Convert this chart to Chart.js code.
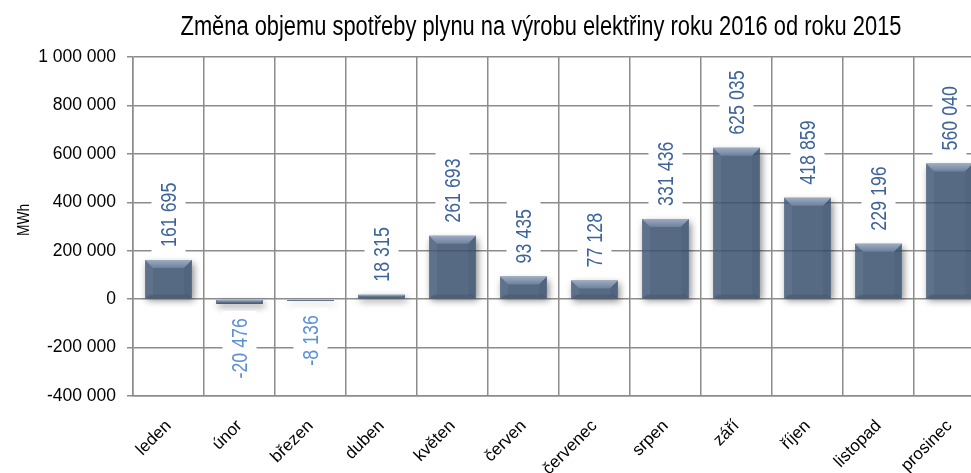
<!DOCTYPE html>
<html lang="cs">
<head>
  <meta charset="UTF-8">
  <title>Změna objemu spotřeby plynu na výrobu elektřiny</title>
  <script src="https://cdn.jsdelivr.net/npm/chart.js@4.4.1/dist/chart.umd.min.js"></script>
  <style>
    html, body { margin: 0; padding: 0; background: #fff; overflow: hidden; }
    #wrap { width: 1000px; height: 473px; position: relative; }
  </style>
</head>
<body>
  <div id="wrap"><canvas id="chart"></canvas></div>

  <script>
    // data
    const months = ['leden', 'únor', 'březen', 'duben', 'květen', 'červen',
                    'červenec', 'srpen', 'září', 'říjen', 'listopad', 'prosinec'];
    const change = [161695, -20476, -8136, 18315, 261693, 93435,
                    77128, 331436, 625035, 418859, 229196, 560040];
    const yMin = -400000, yMax = 1000000, yStep = 200000;
    const chartTitle = 'Změna objemu spotřeby plynu na výrobu elektřiny roku 2016 od roku 2015';
    const yTitle = 'MWh';

    const FONT = "'Liberation Sans', Arial, sans-serif";
    const NARROW = 0.81;   // no narrow face installed, squeeze the regular one
    const GRID = '#8c8c8c';

    // 1 234 567 style
    function fmt(v) {
      return String(v).replace(/\B(?=(\d{3})+(?!\d))/g, ' ');
    }

    // chart title and axis title drawn by hand, both sit a bit off-centre in the original
    const textPlugin = {
      id: 'titles',
      afterDraw(chart) {
        const ctx = chart.ctx;
        ctx.save();
        ctx.fillStyle = '#000';
        ctx.textAlign = 'center';
        ctx.textBaseline = 'alphabetic';
        ctx.save();
        ctx.translate(541, 35);
        ctx.scale(NARROW, 1);
        ctx.font = '27px ' + FONT;
        ctx.fillText(chartTitle, 0, 0);
        ctx.restore();

        ctx.font = '17px ' + FONT;
        ctx.translate(29, 220);
        ctx.rotate(-Math.PI / 2);
        ctx.scale(NARROW, 1);
        ctx.fillText(yTitle, 0, 0);
        ctx.restore();
      }
    };

    function barBox(el) {
      const p = el.getProps(['x', 'y', 'base', 'width'], true);
      return {
        x: p.x, y: p.y,
        left: p.x - p.width / 2, right: p.x + p.width / 2,
        top: Math.min(p.y, p.base), bottom: Math.max(p.y, p.base),
        width: p.width
      };
    }

    // soft shadow + bevel on bars, then the rotated value labels
    const barDeco = {
      id: 'barDeco',
      beforeDatasetsDraw(chart) {
        const ctx = chart.ctx;
        const OFF = 5000;
        chart.getDatasetMeta(0).data.forEach(el => {
          const r = barBox(el);
          ctx.save();
          // shadow only outside the bar, the bar itself is see-through
          ctx.beginPath();
          ctx.rect(0, 0, chart.width, chart.height);
          ctx.rect(r.left, r.top, r.width, r.bottom - r.top);
          ctx.clip('evenodd');
          ctx.shadowColor = 'rgba(0,0,0,0.45)';
          ctx.shadowBlur = 7;
          ctx.shadowOffsetX = OFF + 2;
          ctx.shadowOffsetY = 3;
          ctx.fillStyle = '#000';
          ctx.fillRect(r.left - OFF, r.top, r.width, r.bottom - r.top);
          ctx.restore();
        });
      },
      afterDatasetsDraw(chart) {
        const ctx = chart.ctx;
        chart.getDatasetMeta(0).data.forEach((el, i) => {
          const r = barBox(el);
          const { left, right, top, bottom } = r;
          const b = Math.min(8, (bottom - top) / 2, r.width / 4);

          ctx.save();
          // top face
          const g = ctx.createLinearGradient(0, top, 0, top + b);
          g.addColorStop(0, 'rgba(160,175,198,0.95)');
          g.addColorStop(1, 'rgba(112,130,156,0.95)');
          ctx.fillStyle = g;
          ctx.beginPath();
          ctx.moveTo(left, top); ctx.lineTo(right, top);
          ctx.lineTo(right - b, top + b); ctx.lineTo(left + b, top + b);
          ctx.closePath(); ctx.fill();
          // sides
          ctx.fillStyle = 'rgba(255,255,255,0.05)';
          ctx.beginPath();
          ctx.moveTo(left, top); ctx.lineTo(left + b, top + b);
          ctx.lineTo(left + b, bottom - b / 2); ctx.lineTo(left, bottom);
          ctx.closePath(); ctx.fill();
          ctx.fillStyle = 'rgba(0,0,0,0.05)';
          ctx.beginPath();
          ctx.moveTo(right, top); ctx.lineTo(right - b, top + b);
          ctx.lineTo(right - b, bottom - b / 2); ctx.lineTo(right, bottom);
          ctx.closePath(); ctx.fill();
          // bottom edge
          ctx.fillStyle = 'rgba(0,0,0,0.10)';
          ctx.beginPath();
          ctx.moveTo(left, bottom); ctx.lineTo(right, bottom);
          ctx.lineTo(right - b / 2, bottom - b / 2); ctx.lineTo(left + b / 2, bottom - b / 2);
          ctx.closePath(); ctx.fill();
          ctx.restore();

          // value label, rotated, on a white box
          const v = change[i];
          const txt = fmt(v);
          ctx.save();
          ctx.font = '22px ' + FONT;
          const w = ctx.measureText(txt).width * NARROW;
          const neg = v < 0;
          const ay = neg ? r.y + 14 : r.y - 13;
          ctx.translate(r.x, ay);
          ctx.rotate(-Math.PI / 2);
          ctx.fillStyle = '#fff';
          if (neg) ctx.fillRect(-w - 7, -17, w + 14, 34);
          else ctx.fillRect(-7, -17, w + 14, 34);
          ctx.scale(NARROW, 1);
          ctx.fillStyle = neg ? '#5b8fd6' : '#3e6399';
          ctx.textAlign = neg ? 'right' : 'left';
          ctx.textBaseline = 'middle';
          ctx.fillText(txt, 0, 1);
          ctx.restore();
        });
      }
    };

    new Chart(document.getElementById('chart'), {
      type: 'bar',
      data: {
        labels: months,
        datasets: [{
          data: change,
          backgroundColor: 'rgba(56,80,111,0.85)',
          borderWidth: 0,
          categoryPercentage: 1,
          barPercentage: 0.66
        }]
      },
      options: {
        responsive: true,
        maintainAspectRatio: false,
        animation: false,
        layout: { padding: { top: 57, right: 15, left: 0, bottom: 0 } },
        plugins: {
          legend: { display: false },
          title: { display: false },
          tooltip: { enabled: false }
        },
        scales: {
          x: {
            grid: { color: GRID, lineWidth: 1.5, drawTicks: false, offset: true },
            border: { color: GRID, width: 1.5 },
            ticks: {
              color: '#000',
              font: { family: FONT, size: 17 },
              maxRotation: 45, minRotation: 45,
              padding: 20
            },
            afterFit(scale) { scale.height = 77; }
          },
          y: {
            min: yMin, max: yMax,
            grid: { color: GRID, lineWidth: 1.5, tickLength: 6 },
            border: { color: GRID, width: 1.5 },
            ticks: {
              stepSize: yStep,
              color: '#000',
              font: { family: FONT, size: 17.5 },
              padding: 11,
              callback: v => fmt(v)
            },
            afterFit(scale) { scale.width = 133; }
          }
        }
      },
      plugins: [textPlugin, barDeco]
    });
  </script>
</body>
</html>
